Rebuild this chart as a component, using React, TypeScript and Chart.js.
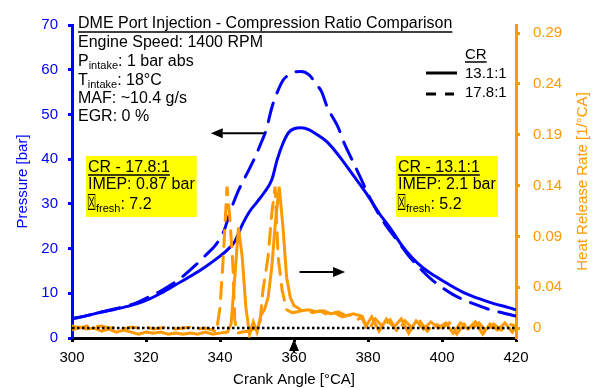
import React, { useEffect, useRef } from 'react';
import { Chart, registerables } from 'chart.js';
Chart.register(...registerables);

const FONT = "'Liberation Sans', Arial, sans-serif";
const BLUE = '#0000ff';
const ORANGE = '#ff9900';

const crankTicks = [300, 320, 340, 360, 380, 400, 420];
const pressureTicks = [0, 10, 20, 30, 40, 50, 60, 70];
const hrrTicks = [0, 0.04, 0.09, 0.14, 0.19, 0.24, 0.29];

// Pressure, CR 13.1:1 (solid)
const pSolidCA = [300, 304, 308, 312, 316, 320, 324, 328, 332, 336, 340, 342, 344, 346, 348, 350, 352, 354, 355.5, 357, 358.5, 360, 362, 364, 366, 369, 372, 376, 380, 383, 386, 389, 392, 395, 398, 402, 406, 410, 414, 418, 420];
const pSolid = [4.3, 5.0, 5.8, 6.5, 7.3, 8.4, 10.0, 11.9, 13.8, 15.9, 18.3, 19.7, 21.6, 25.3, 28.3, 30.4, 32.6, 35.4, 40.0, 43.5, 45.9, 46.8, 47.0, 46.6, 45.6, 43.8, 40.9, 36.4, 31.8, 27.9, 24.6, 20.9, 17.9, 15.6, 13.9, 11.9, 10.1, 8.8, 7.7, 6.8, 6.3];

// Pressure, CR 17.8:1 (dashed)
const pDashCA = [300, 304, 308, 312, 315, 318, 321, 324, 327, 330, 333, 336, 339, 341, 343, 345, 347, 349, 351, 352.5, 354, 355.5, 357, 358.5, 360, 362, 364, 366, 367.5, 369, 371, 372, 373.2, 376, 378, 380, 382, 385, 388, 391, 394, 397, 400, 403, 406, 409, 412, 415, 418, 420];
const pDash = [4.3, 5.0, 5.8, 6.6, 7.2, 8.1, 9.3, 10.5, 12.0, 13.8, 16.0, 18.4, 21.0, 23.8, 28.8, 33.0, 36.3, 39.6, 43.4, 46.6, 51.5, 55.0, 57.6, 58.8, 59.5, 59.6, 58.9, 56.8, 55.0, 51.6, 48.6, 47.0, 44.3, 39.3, 35.8, 32.2, 29.0, 25.0, 21.7, 18.4, 15.6, 13.2, 11.3, 9.7, 8.5, 7.5, 6.6, 5.9, 5.3, 4.9];

// Heat release rate, CR 13.1:1 (solid)
const hSolidCA = [300, 302, 304, 306, 308, 310, 312, 314, 316, 318, 320, 322, 324, 326, 328, 330, 332, 334, 336, 338, 340, 342, 343, 344, 345, 346, 347, 348, 349, 350, 351, 352, 353, 354, 355, 356, 357, 358, 359, 360, 361, 362, 364, 366, 368, 370, 372, 374, 376, 378, 379.5, 381, 383, 385, 387, 389, 391, 393, 395, 397, 399, 401, 403, 405, 407, 409, 411, 413, 415, 417, 419, 420];
const hSolid = [-0.002, 0.001, -0.001, 0.0, -0.003, -0.001, -0.004, -0.002, -0.004, -0.006, -0.004, -0.005, -0.004, -0.006, -0.005, -0.006, -0.005, -0.006, -0.004, -0.006, -0.005, -0.004, 0.004, 0.05, 0.099, 0.07, 0.02, -0.006, 0.006, -0.004, 0.012, 0.018, 0.03, 0.06, 0.105, 0.139, 0.1, 0.05, 0.03, 0.022, 0.02, 0.017, 0.018, 0.016, 0.017, 0.014, 0.016, 0.012, 0.014, 0.012, 0.002, 0.011, -0.003, 0.009, 0.001, 0.009, -0.005, 0.007, -0.001, 0.006, 0.0, 0.005, -0.005, 0.005, -0.001, 0.006, -0.006, 0.004, -0.002, 0.005, -0.004, 0.002];

// Heat release rate, CR 17.8:1 (dashed)
const hDashCA = [300, 302, 304, 306, 308, 310, 312, 314, 316, 318, 320, 322, 324, 326, 328, 330, 332, 334, 336, 338, 339, 340, 340.8, 341.9, 342.7, 343.5, 344, 344.6, 346, 348, 349.5, 350.8, 351.6, 353, 354, 354.9, 355.7, 356.8, 358, 359.5, 361, 363, 365, 367, 369, 371, 373, 375, 377, 378.5, 380, 382, 384, 386, 388, 390, 392, 394, 396, 398, 400, 402, 404, 406, 408, 410, 412, 414, 416, 418, 420];
const hDash = [0.002, 0.0, 0.002, 0.001, 0.002, 0.0, 0.001, -0.001, 0.001, 0.0, 0.001, -0.001, 0.0, 0.001, -0.001, 0.0, 0.001, -0.001, 0.0, -0.002, -0.004, 0.02, 0.064, 0.139, 0.106, 0.06, 0.008, -0.005, -0.004, -0.003, 0.0, 0.005, 0.037, 0.07, 0.113, 0.139, 0.07, 0.037, 0.018, 0.015, 0.016, 0.018, 0.015, 0.017, 0.013, 0.015, 0.011, 0.013, 0.008, 0.011, -0.003, 0.009, 0.001, 0.008, -0.004, 0.007, 0.0, 0.007, -0.003, 0.005, 0.0, 0.005, -0.006, 0.004, -0.001, 0.005, -0.004, 0.004, -0.002, 0.004, 0.002];

const zeroCA = [300, 420];
const zeroHRR = [0, 0];

const zip = (xs: number[], ys: number[]) => xs.map((x, i) => ({ x, y: ys[i] }));

const F16 = `16px ${FONT}`;
const F15 = `15px ${FONT}`;
const FSUB = `11px ${FONT}`;

function rich(ctx: CanvasRenderingContext2D, x: number, y: number, parts: [string, boolean][]) {
  let cx = x;
  for (const [t, sub] of parts) {
    ctx.font = sub ? FSUB : F16;
    ctx.fillText(t, cx, sub ? y + 3 : y);
    cx += ctx.measureText(t).width;
  }
  return cx - x;
}

function underlined(ctx: CanvasRenderingContext2D, text: string, x: number, y: number, uy: number, font: string) {
  ctx.font = font;
  ctx.fillText(text, x, y);
  const w = ctx.measureText(text).width;
  ctx.beginPath();
  ctx.lineWidth = 1.5;
  ctx.moveTo(x, uy);
  ctx.lineTo(x + w, uy);
  ctx.stroke();
}

function lambdaLine(ctx: CanvasRenderingContext2D, x: number, y: number, value: string) {
  // tall "missing glyph" box with a cross, as in the original figure
  ctx.save();
  ctx.translate(x - 1, y + 1);
  ctx.scale(0.6, 1.3);
  ctx.font = `17px 'DejaVu Sans', sans-serif`;
  ctx.fillText('☒', 0, 0);
  ctx.restore();
  ctx.font = FSUB;
  ctx.fillText('fresh', x + 8, y + 3);
  const w = ctx.measureText('fresh').width;
  ctx.font = F16;
  ctx.fillText(': ' + value, x + 8 + w, y);
}

function arrow(ctx: CanvasRenderingContext2D, x1: number, y1: number, x2: number, y2: number) {
  const ang = Math.atan2(y2 - y1, x2 - x1);
  const hl = 12, hw = 5;
  ctx.beginPath();
  ctx.lineWidth = 2;
  ctx.moveTo(x1, y1);
  ctx.lineTo(x2 - Math.cos(ang) * hl, y2 - Math.sin(ang) * hl);
  ctx.stroke();
  ctx.beginPath();
  ctx.moveTo(x2, y2);
  ctx.lineTo(x2 - Math.cos(ang) * hl - Math.sin(ang) * hw, y2 - Math.sin(ang) * hl + Math.cos(ang) * hw);
  ctx.lineTo(x2 - Math.cos(ang) * hl + Math.sin(ang) * hw, y2 - Math.sin(ang) * hl - Math.cos(ang) * hw);
  ctx.closePath();
  ctx.fill();
}

function yellowBox(ctx: CanvasRenderingContext2D, x: number, top: number, cr: string, imep: string, lam: string) {
  ctx.font = F16;
  const w = Math.max(ctx.measureText('CR - ' + cr).width, ctx.measureText('IMEP: ' + imep).width);
  ctx.fillStyle = '#ffff00';
  ctx.fillRect(x - 2, top, w + 4, 61);
  ctx.fillStyle = '#000';
  ctx.strokeStyle = '#000';
  underlined(ctx, 'CR - ' + cr, x, top + 16, top + 19, F16);
  ctx.font = F16;
  ctx.fillText('IMEP: ' + imep, x, top + 33);
  lambdaLine(ctx, x, top + 53, lam);
}

const annotations = {
  id: 'annotations',
  afterDraw(chart: any) {
    const ctx: CanvasRenderingContext2D = chart.ctx;
    const { x, y, y1 } = chart.scales;
    const area = chart.chartArea;
    ctx.save();
    ctx.textAlign = 'left';
    ctx.textBaseline = 'alphabetic';
    ctx.fillStyle = '#000';
    ctx.strokeStyle = '#000';

    // right axis title (reads bottom-to-top)
    ctx.save();
    ctx.translate(583, (area.top + area.bottom) / 2);
    ctx.rotate(-Math.PI / 2);
    ctx.textAlign = 'center';
    ctx.textBaseline = 'middle';
    ctx.fillStyle = ORANGE;
    ctx.font = F15;
    ctx.fillText('Heat Release Rate [1/°CA]', 0, 0);
    ctx.restore();

    // header block
    const tx = 78;
    underlined(ctx, 'DME Port Injection - Compression Ratio Comparison', tx, 28, 32, F16);
    ctx.font = F16;
    ctx.fillText('Engine Speed: 1400 RPM', tx, 47);
    rich(ctx, tx, 66, [['P', false], ['intake', true], [': 1 bar abs', false]]);
    rich(ctx, tx, 85, [['T', false], ['intake', true], [': 18°C', false]]);
    ctx.font = F16;
    ctx.fillText('MAF: ~10.4 g/s', tx, 103);
    ctx.fillText('EGR: 0 %', tx, 121);

    // legend
    underlined(ctx, 'CR', 465, 59, 62, F15);
    ctx.font = F15;
    ctx.fillText('13.1:1', 465, 78);
    ctx.fillText('17.8:1', 465, 97);
    ctx.lineWidth = 3;
    ctx.beginPath();
    ctx.moveTo(426, 73);
    ctx.lineTo(457, 73);
    ctx.stroke();
    ctx.beginPath();
    ctx.moveTo(426, 94);
    ctx.lineTo(436, 94);
    ctx.moveTo(445, 94);
    ctx.lineTo(454, 94);
    ctx.stroke();

    // info boxes
    yellowBox(ctx, 88, 156, '17.8:1', '0.87 bar', '7.2');
    yellowBox(ctx, 398, 156, '13.1:1', '2.1 bar', '5.2');

    // arrows
    ctx.fillStyle = '#000';
    ctx.strokeStyle = '#000';
    const ay = y.getPixelForValue(45.8);
    arrow(ctx, x.getPixelForValue(352), ay, x.getPixelForValue(337.5), ay);
    const by = y1.getPixelForValue(0.055);
    arrow(ctx, x.getPixelForValue(361.5), by, x.getPixelForValue(373.8), by);
    const cx = x.getPixelForValue(360);
    arrow(ctx, cx, area.bottom + 14, cx, area.bottom + 1);
    ctx.restore();
  },
};

export default function App() {
  const ref = useRef<HTMLCanvasElement | null>(null);
  useEffect(() => {
    if (!ref.current) return;
    Chart.defaults.font.family = FONT;
    Chart.defaults.font.size = 15;
    const chart = new Chart(ref.current, {
      type: 'line',
      data: {
        datasets: [
          { label: 'zero', data: zip(zeroCA, zeroHRR), yAxisID: 'y1', borderColor: '#000', borderWidth: 2.5, borderDash: [2.5, 2.5], pointRadius: 0, order: 1 },
          { label: 'HRR 13.1:1', data: zip(hSolidCA, hSolid), yAxisID: 'y1', borderColor: ORANGE, borderWidth: 3, pointRadius: 0, tension: 0, order: 2 },
          { label: 'HRR 17.8:1', data: zip(hDashCA, hDash), yAxisID: 'y1', borderColor: ORANGE, borderWidth: 3, borderDash: [16, 10], borderCapStyle: 'round', pointRadius: 0, tension: 0, order: 2 },
          { label: 'P 13.1:1', data: zip(pSolidCA, pSolid), yAxisID: 'y', borderColor: BLUE, borderWidth: 3, pointRadius: 0, cubicInterpolationMode: 'monotone', order: 3 },
          { label: 'P 17.8:1', data: zip(pDashCA, pDash), yAxisID: 'y', borderColor: BLUE, borderWidth: 3, borderDash: [19, 11], borderCapStyle: 'round', pointRadius: 0, cubicInterpolationMode: 'monotone', order: 3 },
        ] as any,
      },
      options: {
        responsive: false,
        animation: false,
        layout: { padding: { top: 25, left: 0, right: 0, bottom: 0 } },
        plugins: { legend: { display: false }, tooltip: { enabled: false } },
        scales: {
          x: {
            type: 'linear',
            position: 'bottom',
            min: 300,
            max: 420,
            afterBuildTicks: (s: any) => { s.ticks = crankTicks.map((v) => ({ value: v })); },
            ticks: { color: '#000', padding: 7, maxRotation: 0, autoSkip: false, font: { size: 15 } },
            grid: { drawOnChartArea: false, drawTicks: true, tickLength: 4, tickWidth: 3, tickColor: '#000' },
            border: { color: '#000', width: 3 },
            title: { display: true, text: 'Crank Angle [°CA]', color: '#000', font: { size: 15, lineHeight: 1 }, padding: { top: 0, bottom: 1 } },
            afterFit: (s: any) => { s.height = 50; },
          },
          y: {
            type: 'linear',
            position: 'left',
            min: 0,
            max: 70,
            afterBuildTicks: (s: any) => { s.ticks = pressureTicks.map((v) => ({ value: v })); },
            ticks: { color: BLUE, padding: 10, font: { size: 15 } },
            grid: { drawOnChartArea: false, drawTicks: true, tickLength: 4, tickWidth: 3, tickColor: BLUE },
            border: { color: BLUE, width: 3 },
            title: { display: true, text: 'Pressure [bar]', color: BLUE, font: { size: 15 }, padding: { top: 14, bottom: 0 } },
            afterFit: (s: any) => { s.width = 72; },
          },
          y1: {
            type: 'linear',
            position: 'right',
            min: -0.0098,
            max: 0.298,
            afterBuildTicks: (s: any) => { s.ticks = hrrTicks.map((v) => ({ value: v })); },
            ticks: {
              color: ORANGE,
              padding: 13,
              font: { size: 15 },
              callback: (v: any) => (Number(v) === 0 ? '0' : Number(v).toFixed(2)),
            },
            grid: { drawOnChartArea: false, drawTicks: true, tickLength: 4, tickWidth: 3, tickColor: ORANGE },
            border: { color: ORANGE, width: 3 },
            afterFit: (s: any) => { s.width = 76; },
          },
        },
      } as any,
      plugins: [annotations],
    });
    return () => chart.destroy();
  }, []);
  return (
    <div style={{ position: 'absolute', left: 0, top: 0, width: 592, height: 388, background: '#fff' }}>
      <canvas ref={ref} width={592} height={388} style={{ display: 'block' }} />
    </div>
  );
}
